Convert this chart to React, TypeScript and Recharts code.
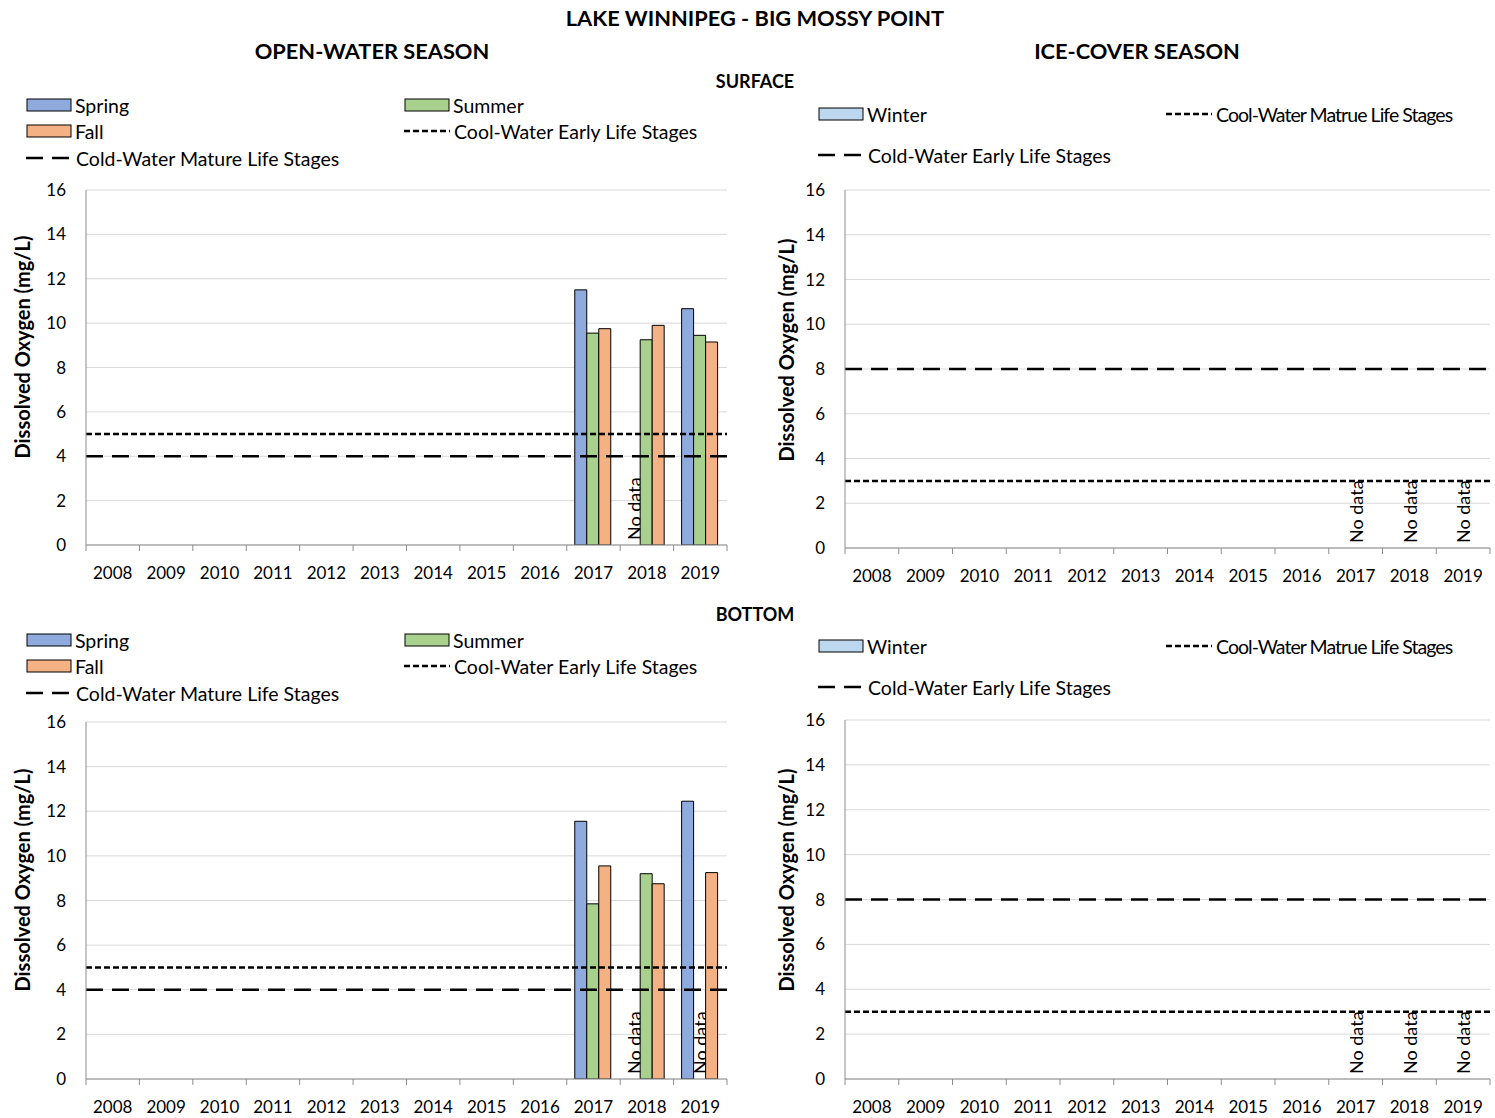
import React from 'react';
import { BarChart, Bar, XAxis, YAxis, CartesianGrid, ReferenceLine, Rectangle } from 'recharts';

// categories
const YEARS = ['2008', '2009', '2010', '2011', '2012', '2013', '2014', '2015', '2016', '2017', '2018', '2019'];
const Y_TICKS = [0, 2, 4, 6, 8, 10, 12, 14, 16];

// open-water, surface (mg/L)
const SURFACE_SPRING = [null, null, null, null, null, null, null, null, null, 11.5, null, 10.65];
const SURFACE_SUMMER = [null, null, null, null, null, null, null, null, null, 9.55, 9.25, 9.45];
const SURFACE_FALL = [null, null, null, null, null, null, null, null, null, 9.75, 9.9, 9.15];

// open-water, bottom (mg/L)
const BOTTOM_SPRING = [null, null, null, null, null, null, null, null, null, 11.55, null, 12.45];
const BOTTOM_SUMMER = [null, null, null, null, null, null, null, null, null, 7.85, 9.2, null];
const BOTTOM_FALL = [null, null, null, null, null, null, null, null, null, 9.55, 8.75, 9.25];

// ice-cover (mg/L)
const SURFACE_WINTER = [null, null, null, null, null, null, null, null, null, null, null, null];
const BOTTOM_WINTER = [null, null, null, null, null, null, null, null, null, null, null, null];

// years flagged "No data"
const SURFACE_SPRING_NO_DATA = ['2018'];
const BOTTOM_SPRING_NO_DATA = ['2018'];
const BOTTOM_SUMMER_NO_DATA = ['2019'];
const WINTER_NO_DATA = ['2017', '2018', '2019'];

// guidelines
const OPEN_COOL_EARLY = 5;
const OPEN_COLD_MATURE = 4;
const ICE_COOL_MATURE = 3;
const ICE_COLD_EARLY = 8;

const FONT = 'Lato, "Open Sans", sans-serif';
const C_SPRING = '#8FAADC';
const C_SUMMER = '#A9D18E';
const C_FALL = '#F4B183';
const C_WINTER = '#BDD7EE';
const AXIS = '#8C8C8C';
const GRID = '#D9D9D9';
const SHORT_DASH = '6 3';
const LONG_DASH = '17 9';
const TICK_MARGIN = 22;

// a flagged year gets a zero-height bar so its "No data" label has a slot
const val = (arr: (number | null)[], flagged: string[], i: number) =>
  arr[i] ?? (flagged.includes(YEARS[i]) ? 0 : null);

const openRows = (spring: (number | null)[], summer: (number | null)[], fall: (number | null)[], springNd: string[], summerNd: string[]) =>
  YEARS.map((year, i) => ({ year, spring: val(spring, springNd, i), summer: val(summer, summerNd, i), fall: fall[i] }));
const iceRows = (winter: (number | null)[]) => YEARS.map((year, i) => ({ year, winter: val(winter, WINTER_NO_DATA, i) }));

// bar shape that also writes "No data" for flagged years
const barShape = (flagged: string[]) => (props: any) => {
  const { x, y, width, height, payload, index } = props;
  const year = payload?.year ?? YEARS[index];
  const h = Number(height) || 0;
  if (flagged.includes(year)) {
    const cx = Number(x) + Number(width) / 2;
    const base = Number(y) + h - 5;
    return (
      <text
        x={cx}
        y={base}
        transform={`rotate(-90 ${cx} ${base})`}
        textAnchor="start"
        dominantBaseline="central"
        fontSize={18}
        fontFamily={FONT}
        fill="#000"
      >
        No data
      </text>
    );
  }
  if (h <= 0) return <g />;
  return <Rectangle x={x} y={y} width={width} height={height} fill={props.fill} stroke="#000" strokeWidth={1} />;
};

// year label with Excel-style tick marks between categories
const YearTick = (props: any) => {
  const { x, y, payload, index, width, visibleTicksCount } = props;
  const count = visibleTicksCount || YEARS.length;
  const band = Number(width) / count;
  const axisY = y - TICK_MARGIN;
  const left = x - band / 2;
  return (
    <g>
      <line x1={left} x2={left} y1={axisY} y2={axisY + 6} stroke={AXIS} />
      {index === count - 1 && <line x1={left + band} x2={left + band} y1={axisY} y2={axisY + 6} stroke={AXIS} />}
      <text x={x} y={y} dy="0.71em" textAnchor="middle" fontSize={17} fontFamily={FONT} fill="#000">
        {payload.value}
      </text>
    </g>
  );
};

function Panel({ left, top, width, height, children, marginTop, marginBottom, marginLeft, marginRight, data }: any) {
  return (
    <div style={{ position: 'absolute', left, top }}>
      <BarChart
        width={width}
        height={height}
        data={data}
        margin={{ top: marginTop, right: marginRight, bottom: marginBottom, left: marginLeft }}
        barCategoryGap="15%"
        barGap={0}
      >
        <CartesianGrid vertical={false} stroke={GRID} />
        <XAxis
          dataKey="year"
          tickLine={false}
          axisLine={{ stroke: AXIS }}
          tickSize={0}
          tickMargin={TICK_MARGIN}
          height={36}
          interval={0}
          tick={<YearTick />}
        />
        <YAxis
          domain={[0, 16]}
          ticks={Y_TICKS}
          allowDataOverflow
          tickLine={false}
          tickSize={0}
          tickMargin={20}
          axisLine={{ stroke: AXIS }}
          width={80}
          tick={{ fill: '#000', fontSize: 17, fontFamily: FONT }}
        />
        <YAxis yAxisId="right" orientation="right" domain={[0, 16]} allowDataOverflow tick={false} tickLine={false} axisLine={{ stroke: AXIS }} width={0} />
        {children}
      </BarChart>
    </div>
  );
}

function OpenPanel({ left, top, height, marginBottom, data, springNoData, summerNoData }: any) {
  return (
    <Panel left={left} top={top} width={740} height={height} data={data} marginTop={10} marginBottom={marginBottom} marginLeft={6} marginRight={13}>
      <Bar dataKey="spring" name="Spring" fill={C_SPRING} stroke="#000" strokeWidth={1} isAnimationActive={false} shape={barShape(springNoData)} />
      <Bar dataKey="summer" name="Summer" fill={C_SUMMER} stroke="#000" strokeWidth={1} isAnimationActive={false} shape={barShape(summerNoData)} />
      <Bar dataKey="fall" name="Fall" fill={C_FALL} stroke="#000" strokeWidth={1} isAnimationActive={false} />
      <ReferenceLine y={OPEN_COOL_EARLY} stroke="#000" strokeWidth={2.5} strokeDasharray={SHORT_DASH} />
      <ReferenceLine y={OPEN_COLD_MATURE} stroke="#000" strokeWidth={2.5} strokeDasharray={LONG_DASH} />
    </Panel>
  );
}

function IcePanel({ left, top, height, data, marginTop, marginBottom }: any) {
  return (
    <Panel left={left} top={top} width={735} height={height} data={data} marginTop={marginTop} marginBottom={marginBottom} marginLeft={5} marginRight={5}>
      <Bar dataKey="winter" name="Winter" fill={C_WINTER} stroke="#000" strokeWidth={1} isAnimationActive={false} shape={barShape(WINTER_NO_DATA)} />
      <ReferenceLine y={ICE_COOL_MATURE} stroke="#000" strokeWidth={2.5} strokeDasharray={SHORT_DASH} />
      <ReferenceLine y={ICE_COLD_EARLY} stroke="#000" strokeWidth={2.5} strokeDasharray={LONG_DASH} />
    </Panel>
  );
}

const Box = ({ color }: { color: string }) => (
  <svg width={46} height={14} style={{ marginRight: 3 }}>
    <rect x={1} y={1} width={44} height={12} fill={color} stroke="#000" strokeWidth={1} />
  </svg>
);
const Dash = ({ dash }: { dash: string }) => (
  <svg width={46} height={6} style={{ marginRight: 4 }}>
    <line x1={0} y1={3} x2={46} y2={3} stroke="#000" strokeWidth={2.5} strokeDasharray={dash} />
  </svg>
);

function Item({ x, y, icon, text, spacing = 0 }: { x: number; y: number; icon: React.ReactNode; text: string; spacing?: number }) {
  return (
    <div style={{ position: 'absolute', left: x, top: y - 12, height: 24, display: 'flex', alignItems: 'center', fontSize: 19.5, fontFamily: FONT, whiteSpace: 'nowrap' }}>
      {icon}
      <span style={{ letterSpacing: spacing }}>{text}</span>
    </div>
  );
}

function OpenLegend({ top }: { top: number }) {
  return (
    <>
      <Item x={26} y={top} icon={<Box color={C_SPRING} />} text="Spring" />
      <Item x={404} y={top} icon={<Box color={C_SUMMER} />} text="Summer" />
      <Item x={26} y={top + 26} icon={<Box color={C_FALL} />} text="Fall" />
      <Item x={404} y={top + 26} icon={<Dash dash={SHORT_DASH} />} text="Cool-Water Early Life Stages" />
      <Item x={26} y={top + 53} icon={<Dash dash={LONG_DASH} />} text="Cold-Water Mature Life Stages" />
    </>
  );
}

function IceLegend({ top }: { top: number }) {
  return (
    <>
      <Item x={818} y={top} icon={<Box color={C_WINTER} />} text="Winter" />
      <Item x={1166} y={top} icon={<Dash dash={SHORT_DASH} />} text="Cool-Water Matrue Life Stages" spacing={-0.95} />
      <Item x={818} y={top + 41} icon={<Dash dash={LONG_DASH} />} text="Cold-Water Early Life Stages" />
    </>
  );
}

function YTitle({ x, y }: { x: number; y: number }) {
  return (
    <div
      style={{
        position: 'absolute',
        left: x - 150,
        top: y - 12,
        width: 300,
        height: 24,
        lineHeight: '24px',
        textAlign: 'center',
        transform: 'rotate(-90deg)',
        fontSize: 20,
        fontWeight: 700,
        fontFamily: FONT,
      }}
    >
      Dissolved Oxygen (mg/L)
    </div>
  );
}

function Heading({ x, y, text, size }: { x: number; y: number; text: string; size: number }) {
  return (
    <div style={{ position: 'absolute', left: x - 300, top: y - 14, width: 600, height: 28, lineHeight: '28px', textAlign: 'center', fontSize: size, fontWeight: 700, fontFamily: FONT }}>
      {text}
    </div>
  );
}

export default function App() {
  return (
    <div style={{ position: 'absolute', left: 0, top: 0, width: 1495, height: 1118, overflow: 'hidden', background: '#fff', fontFamily: FONT }}>
      <Heading x={755} y={18} text="LAKE WINNIPEG - BIG MOSSY POINT" size={21.8} />
      <Heading x={372} y={51} text="OPEN-WATER SEASON" size={21.8} />
      <Heading x={1137} y={51} text="ICE-COVER SEASON" size={21.8} />
      <Heading x={755} y={81} text="SURFACE" size={18} />
      <Heading x={755} y={614} text="BOTTOM" size={18} />

      <OpenLegend top={105} />
      <IceLegend top={114} />
      <OpenLegend top={640} />
      <IceLegend top={646} />

      <OpenPanel left={0} top={180} height={420} marginBottom={19} data={openRows(SURFACE_SPRING, SURFACE_SUMMER, SURFACE_FALL, SURFACE_SPRING_NO_DATA, [])} springNoData={SURFACE_SPRING_NO_DATA} summerNoData={[]} />
      <IcePanel left={760} top={180} height={420} data={iceRows(SURFACE_WINTER)} marginTop={10} marginBottom={16} />
      <OpenPanel left={0} top={712} height={406} marginBottom={3} data={openRows(BOTTOM_SPRING, BOTTOM_SUMMER, BOTTOM_FALL, BOTTOM_SPRING_NO_DATA, BOTTOM_SUMMER_NO_DATA)} springNoData={BOTTOM_SPRING_NO_DATA} summerNoData={BOTTOM_SUMMER_NO_DATA} />
      <IcePanel left={760} top={710} height={408} data={iceRows(BOTTOM_WINTER)} marginTop={10} marginBottom={3} />

      <YTitle x={22} y={347} />
      <YTitle x={786} y={350} />
      <YTitle x={22} y={880} />
      <YTitle x={786} y={880} />
    </div>
  );
}
